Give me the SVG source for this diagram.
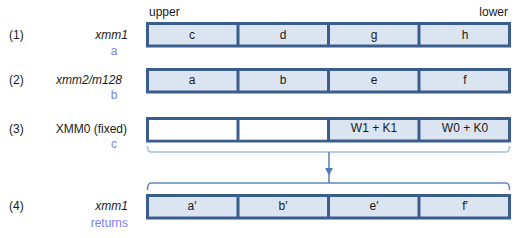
<svg xmlns="http://www.w3.org/2000/svg" width="517" height="238" viewBox="0 0 517 238">
<style>
text{font-family:"Liberation Sans",Arial,sans-serif;font-size:12px;fill:#1a1a1a}
.c{text-anchor:middle}
.r{text-anchor:end}
.i{font-style:italic}
.s{fill:#7f7ff5}
.box{stroke:#3a5d8c;stroke-width:3;fill:#dbe5f1}
.w{fill:#ffffff}
.div{stroke:#3a5d8c;stroke-width:3}
</style>
<rect width="517" height="238" fill="#ffffff"/>
<text x="149" y="16">upper</text>
<text x="508" y="16" class="r">lower</text>

<g id="row1">
<text x="9" y="39">(1)</text>
<text x="128" y="39" class="r i">xmm1</text>
<text x="114" y="55" class="c s">a</text>
<rect x="147.5" y="23.5" width="362" height="22.5" class="box"/>
<line x1="238" y1="23" x2="238" y2="46" class="div"/>
<line x1="328.5" y1="23" x2="328.5" y2="46" class="div"/>
<line x1="419" y1="23" x2="419" y2="46" class="div"/>
<text x="192" y="39" class="c">c</text>
<text x="283" y="39" class="c">d</text>
<text x="374" y="39" class="c">g</text>
<text x="465" y="39" class="c">h</text>
</g>

<g id="row2">
<text x="9" y="84">(2)</text>
<text x="122" y="84" class="r i">xmm2/m128</text>
<text x="114" y="99" class="c s">b</text>
<rect x="147.5" y="69.5" width="362" height="22.5" class="box"/>
<line x1="238" y1="69" x2="238" y2="92" class="div"/>
<line x1="328.5" y1="69" x2="328.5" y2="92" class="div"/>
<line x1="419" y1="69" x2="419" y2="92" class="div"/>
<text x="192" y="84" class="c">a</text>
<text x="283" y="84" class="c">b</text>
<text x="374" y="84" class="c">e</text>
<text x="465" y="84" class="c">f</text>
</g>

<g id="row3">
<text x="9" y="133">(3)</text>
<text x="127" y="133" class="r">XMM0 (fixed)</text>
<text x="114" y="147.5" class="c s">c</text>
<rect x="147.5" y="118.5" width="362" height="22.5" class="box"/>
<rect x="149" y="120" width="179.5" height="19.5" class="w"/>
<line x1="238" y1="118" x2="238" y2="141" class="div"/>
<line x1="328.5" y1="118" x2="328.5" y2="141" class="div"/>
<line x1="419" y1="118" x2="419" y2="141" class="div"/>
<text x="374" y="131.5" class="c">W1 + K1</text>
<text x="465" y="131.5" class="c">W0 + K0</text>
</g>

<g id="row4">
<text x="9" y="210">(4)</text>
<text x="128" y="210" class="r i">xmm1</text>
<text x="128" y="227" class="r s">returns</text>
<rect x="147.5" y="195.5" width="362" height="22.5" class="box"/>
<line x1="238" y1="195" x2="238" y2="218" class="div"/>
<line x1="328.5" y1="195" x2="328.5" y2="218" class="div"/>
<line x1="419" y1="195" x2="419" y2="218" class="div"/>
<text x="192" y="210" class="c">a′</text>
<text x="283" y="210" class="c">b′</text>
<text x="374" y="210" class="c">e′</text>
<text x="465" y="210" class="c">f′</text>
</g>

<g id="connectors" fill="none">
<path d="M147.5,146 Q147.5,152 151,152 L506,152 Q509.5,152 509.5,146" stroke="#a3bedb" stroke-width="1.5"/>
<path d="M147.5,190 Q147.5,183 151,183 L506,183 Q509.5,183 509.5,190" stroke="#5f87bd" stroke-width="1.5"/>
<line x1="329" y1="152" x2="329" y2="183" stroke="#4f7fba" stroke-width="1.5"/>
<polygon points="325,168 333,168 329,175.5" fill="#4f7fba"/>
</g>
</svg>
